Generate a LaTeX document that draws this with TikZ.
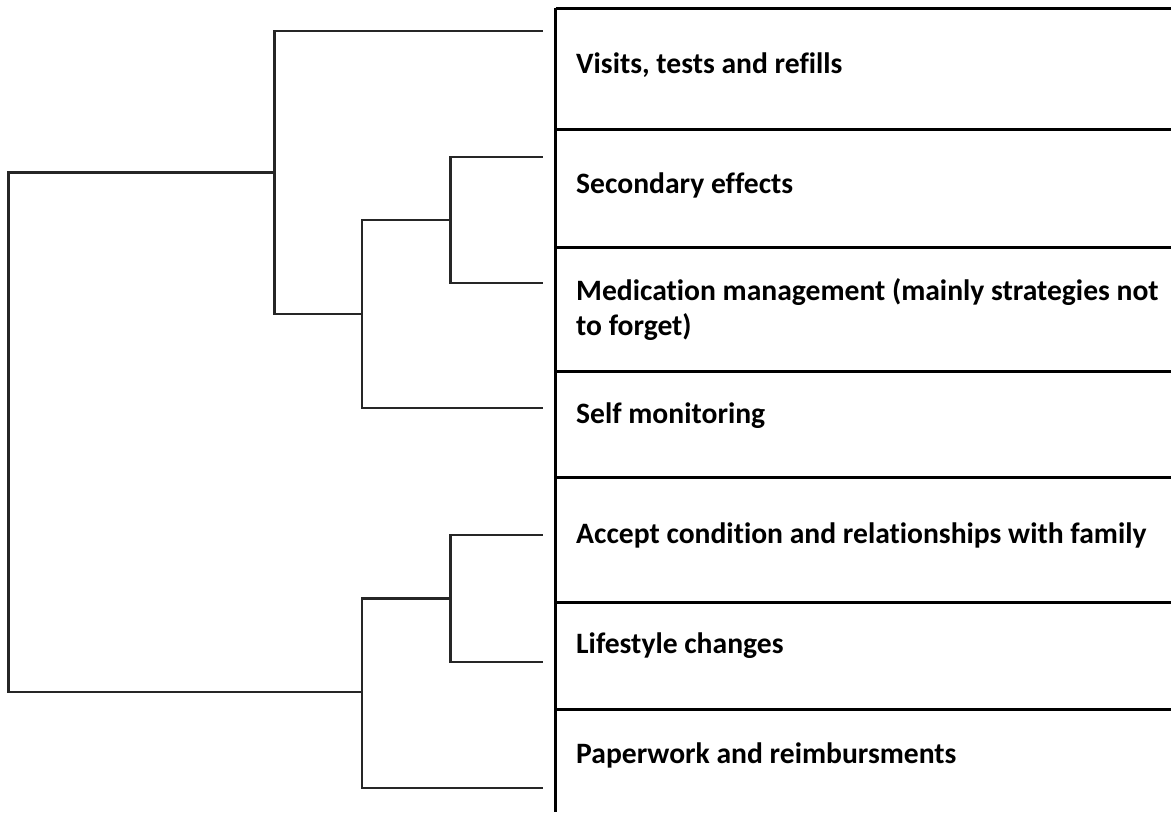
\documentclass[tikz,border=0pt]{standalone}
\usepackage{fontspec}
\setmainfont{Carlito}[Ligatures=NoCommon]
\begin{document}
\begin{tikzpicture}[x=1pt,y=-1pt,
  branch/.style={line width=2.1pt,draw=black!85,line cap=rect},
  rule/.style={line width=3pt,draw=black},
  label/.style={anchor=base west,inner sep=0pt,align=left,
    font=\fontsize{29.6}{35}\selectfont\bfseries}]
\useasboundingbox (0,0) rectangle (1171,812);

% leaves of the tree
\coordinate (l1) at (541.5,31);
\coordinate (l2) at (541.5,157);
\coordinate (l3) at (541.5,283);
\coordinate (l4) at (541.5,408);
\coordinate (l5) at (541.5,535);
\coordinate (l6) at (541.5,662);
\coordinate (l7) at (541.5,788);
% merge points
\coordinate (a) at (450.5,220);
\coordinate (b) at (362,314);
\coordinate (c) at (274.5,172.5);
\coordinate (d) at (450.5,598.5);
\coordinate (e) at (362,692);
\coordinate (root) at (8.5,432);

% dendrogram branches
\draw[branch] (l2) -| (a) |- (l3);
\draw[branch] (a) -| (b) |- (l4);
\draw[branch] (l1) -| (c) |- (b);
\draw[branch] (l5) -| (d) |- (l6);
\draw[branch] (d) -| (e) |- (l7);
\draw[branch] (c) -| (root) |- (e);

% table rules
\draw[rule] (555.5,8) -- (1171,8);
\draw[rule] (555.5,8) -- (555.5,812);
\foreach \yy in {129,247,371,477,602,709}
  \draw[rule] (555.5,\yy) -- (1171,\yy);

% row labels (a two-line label is anchored on its last baseline)
\node[label] (t1) at (576,73)  {Visits, tests and refills};
\node[label] (t2) at (576,193) {Secondary effects};
\node[label] (t3) at (576,335) {Medication management (mainly strategies not\\to forget)};
\node[label] (t4) at (576,423) {Self monitoring};
\node[label] (t5) at (576,543) {Accept condition and relationships with family};
\node[label] (t6) at (576,653) {Lifestyle changes};
\node[label] (t7) at (576,763) {Paperwork and reimbursments};
\end{tikzpicture}
\end{document}
